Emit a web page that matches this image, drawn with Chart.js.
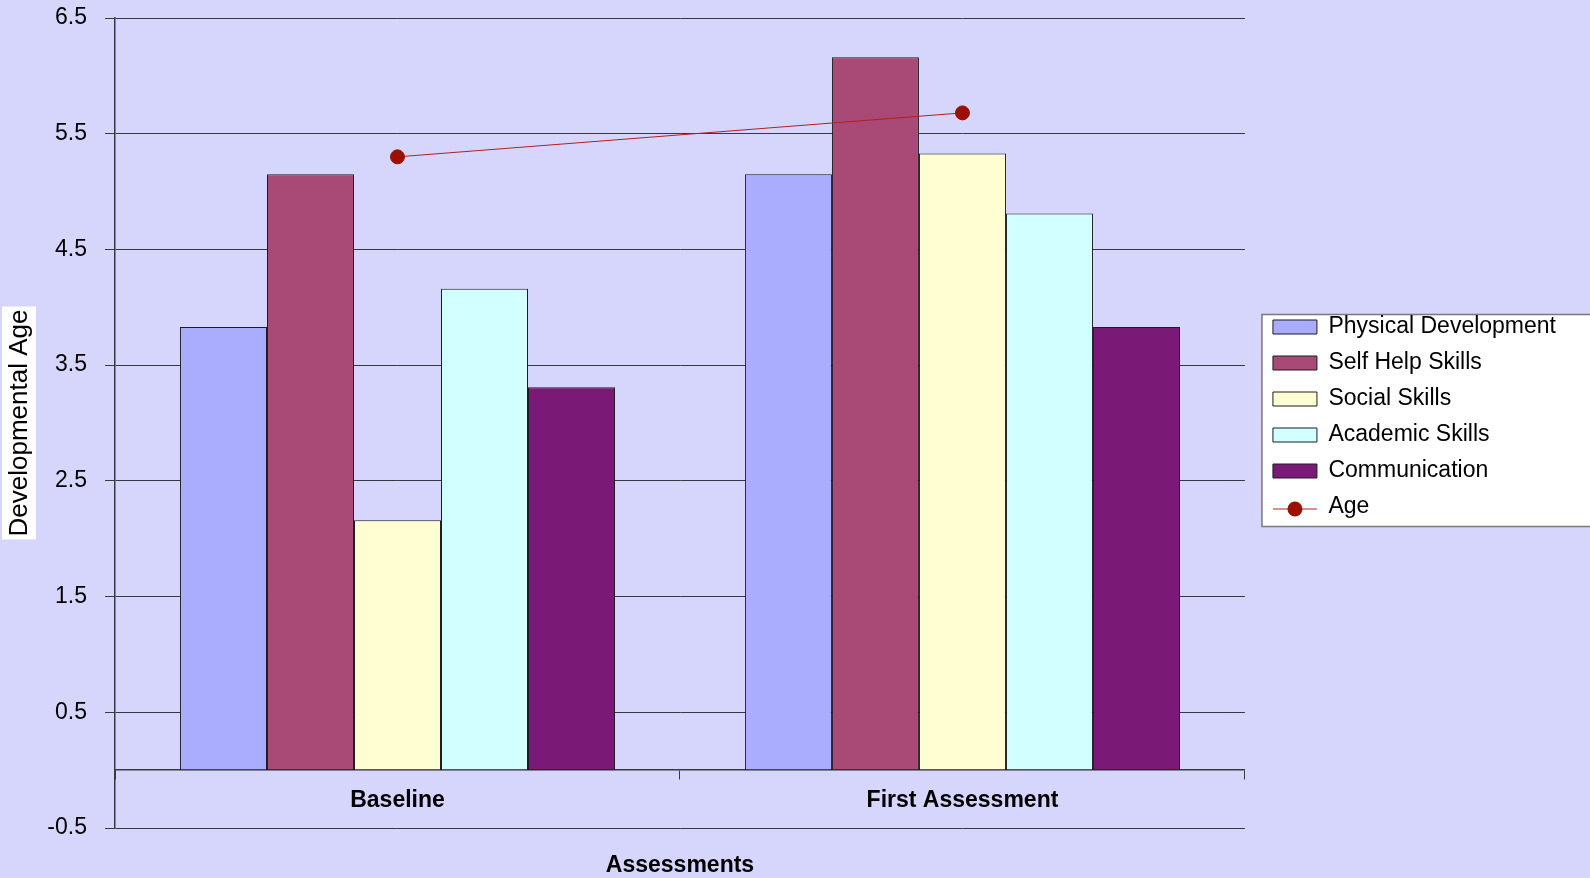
<!DOCTYPE html>
<html lang="en">
<head>
<meta charset="UTF-8">
<title>Developmental Age by Assessment</title>
<script src="https://cdn.jsdelivr.net/npm/chart.js"></script>
<style>
  html, body { margin: 0; padding: 0; background: #d6d6fc; overflow: hidden; }
  canvas { display: block; }
</style>
</head>
<body>
<canvas id="devChart" width="1590" height="878"></canvas>
<script>
// categories and series
const assessments = ['Baseline', 'First Assessment'];
const physical = [3.83, 5.15];
const selfHelp = [5.15, 6.16];
const social = [2.16, 5.33];
const academic = [4.16, 4.81];
const communication = [3.31, 3.83];
const age = [5.3, 5.68];
const yTicks = [-0.5, 0.5, 1.5, 2.5, 3.5, 4.5, 5.5, 6.5];

const FONT = "'Liberation Sans', Arial, sans-serif";
const gridColor = '#38383f';
const ageColor = '#9b1000';

function barSet(label, data, color) {
    return {
        type: 'bar',
        label: label,
        data: data,
        backgroundColor: color,
        borderColor: '#1c1c22',
        borderWidth: 1,
        borderSkipped: false,
        categoryPercentage: 0.77,
        barPercentage: 1.0,
        order: 1
    };
}

// white box behind the rotated y title
const yTitleBox = {
    id: 'yTitleBox',
    beforeDraw(chart) {
        const { ctx, chartArea, scales } = chart;
        const y = scales.y;
        ctx.save();
        ctx.font = '26px ' + FONT;
        const w = ctx.measureText(y.options.title.text).width;
        const cy = (chartArea.top + chartArea.bottom) / 2;
        ctx.fillStyle = '#ffffff';
        ctx.fillRect(y.left, cy - w / 2 - 3, 34, w + 6);
        ctx.restore();
    }
};

// framed legend panel plus the line/marker swatch for Age
const legendPanel = {
    id: 'legendPanel',
    afterLayout(chart) {
        const lg = chart.legend;
        lg.left += 15;
        lg.right += 15;
        lg.top -= 6;
        lg.bottom -= 6;
    },
    beforeDraw(chart) {
        const lg = chart.legend;
        const boxes = lg.legendHitBoxes;
        if (!boxes || !boxes.length) return;
        const { ctx } = chart;
        const top = boxes[0].top - 1;
        const bottom = boxes[boxes.length - 1].top + boxes[boxes.length - 1].height + 8;
        const left = lg.left + 2;
        ctx.save();
        ctx.fillStyle = '#ffffff';
        ctx.fillRect(left, top, chart.width - left + 10, bottom - top);
        ctx.strokeStyle = '#7a7a7a';
        ctx.lineWidth = 1.5;
        ctx.strokeRect(left, top, chart.width - left + 10, bottom - top);
        ctx.restore();
    },
    afterDraw(chart) {
        const lg = chart.legend;
        const i = lg.legendItems.findIndex(it => it.datasetIndex === 5);
        const hb = lg.legendHitBoxes[i];
        if (!hb) return;
        const { ctx } = chart;
        const bw = lg.options.labels.boxWidth;
        const cy = hb.top + hb.height / 2 + 2;
        ctx.save();
        ctx.strokeStyle = '#b02020';
        ctx.lineWidth = 1;
        ctx.beginPath();
        ctx.moveTo(hb.left, cy);
        ctx.lineTo(hb.left + bw, cy);
        ctx.stroke();
        ctx.fillStyle = ageColor;
        ctx.beginPath();
        ctx.arc(hb.left + bw / 2, cy, 7.5, 0, Math.PI * 2);
        ctx.fill();
        ctx.restore();
    }
};

const ctx = document.getElementById('devChart').getContext('2d');
const chart = new Chart(ctx, {
    data: {
        labels: assessments,
        datasets: [
            barSet('Physical Development', physical, '#aaacfe'),
            barSet('Self Help Skills', selfHelp, '#a94a76'),
            barSet('Social Skills', social, '#fffdd2'),
            barSet('Academic Skills', academic, '#d2ffff'),
            barSet('Communication', communication, '#7a1a76'),
            {
                type: 'line',
                label: 'Age',
                data: age,
                borderColor: '#b02020',
                borderWidth: 1,
                pointRadius: 7,
                pointHoverRadius: 7,
                pointBackgroundColor: ageColor,
                pointBorderColor: ageColor,
                fill: false,
                order: 0
            }
        ]
    },
    options: {
        responsive: false,
        animation: false,
        layout: { padding: { left: 2, top: 18, right: 39, bottom: 50 } },
        scales: {
            x: {
                position: { y: 0 },
                offset: true,
                afterFit(scale) {
                    scale.paddingTop = 0;
                    scale.paddingBottom = 0;
                },
                grid: {
                    offset: true,
                    drawOnChartArea: false,
                    drawTicks: true,
                    tickLength: 9,
                    color: gridColor
                },
                border: { display: true, color: gridColor, width: 1.5 },
                ticks: {
                    color: '#000',
                    padding: 8,
                    font: { family: FONT, size: 23, weight: 'bold' }
                },
                title: {
                    display: true,
                    text: 'Assessments',
                    color: '#000',
                    padding: { top: 29, bottom: 0 },
                    font: { family: FONT, size: 23, weight: 'bold' }
                }
            },
            y: {
                min: -0.5,
                max: 6.5,
                afterBuildTicks(scale) {
                    scale.ticks = yTicks.map(v => ({ value: v }));
                },
                afterFit(scale) {
                    scale.width = 113;
                    scale.paddingTop = 0;
                    scale.paddingBottom = 0;
                },
                grid: {
                    color: gridColor,
                    lineWidth: 1,
                    tickLength: 10
                },
                border: { display: true, color: gridColor, width: 1.5 },
                ticks: {
                    color: '#000',
                    padding: 18,
                    font: { family: FONT, size: 23 }
                },
                title: {
                    display: true,
                    text: 'Developmental Age',
                    color: '#000',
                    padding: { top: 2, bottom: 0 },
                    font: { family: FONT, size: 26 }
                }
            }
        },
        plugins: {
            legend: {
                position: 'right',
                labels: {
                    boxWidth: 44,
                    boxHeight: 14,
                    padding: 13,
                    color: '#000',
                    font: { family: FONT, size: 23 },
                    sort: (a, b) => a.datasetIndex - b.datasetIndex,
                    generateLabels(chart) {
                        const items = Chart.defaults.plugins.legend.labels.generateLabels(chart);
                        items.forEach(it => {
                            if (it.datasetIndex === 5) {
                                it.fillStyle = 'rgba(0,0,0,0)';
                                it.strokeStyle = 'rgba(0,0,0,0)';
                                it.lineWidth = 0;
                            }
                        });
                        return items;
                    }
                }
            },
            tooltip: { enabled: false }
        }
    },
    plugins: [yTitleBox, legendPanel]
});
</script>
</body>
</html>
